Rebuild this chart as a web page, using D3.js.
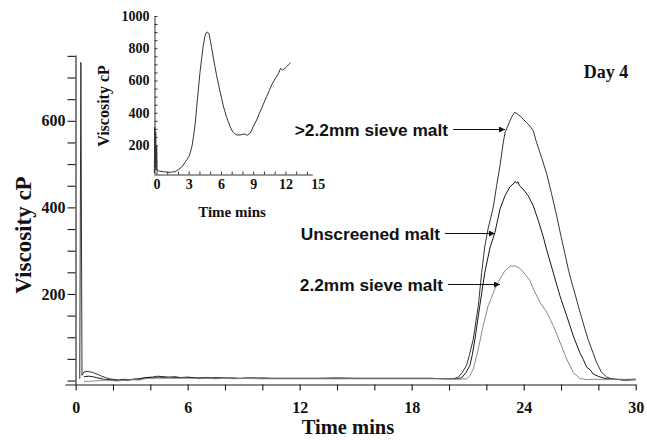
<!DOCTYPE html>
<html>
<head>
<meta charset="utf-8">
<script src="https://cdn.jsdelivr.net/npm/d3@7"></script>
<style>
  html, body { margin: 0; padding: 0; background: #fff; }
  svg { display: block; }
</style>
</head>
<body>
<svg id="chart" width="647" height="440"></svg>
<script>
// ---------------- DATA ----------------
const seriesNames = [">2.2mm sieve malt", "Unscreened malt", "2.2mm sieve malt"];

// >2.2mm sieve malt  [time (min), viscosity (cP)]
const seriesA = [
  [0.22,4],[0.28,735],[0.34,12],[0.45,20],[0.6,21],[0.8,20],[1.0,17],[1.2,14],[1.4,10],[1.6,7],
  [1.8,4],[2.0,3],[2.3,1],[2.6,3],[2.9,2],[3.2,4],[3.5,3],[3.8,7],[4.1,8],[4.4,10],[4.7,9],
  [5.0,8],[5.3,9],[5.6,7],[6.0,8],[6.4,6],[6.8,7],[7.2,6],[7.6,7],[8.0,5],[8.4,6],[8.8,5],
  [9.2,6],[9.6,5],[10.0,6],[10.5,5],[11,5],[12,5],[13,5],[14,6],[15,5],[16,5],[17,5],[18,5],
  [19,5],[20,4],[20.3,5],[20.5,8],[20.7,18],[20.94,35],[21.1,60],[21.3,96],[21.57,173],
  [21.75,250],[21.92,311],[22.1,352],[22.37,400],[22.55,450],[22.73,496],[22.9,548],[23.0,573],
  [23.17,590],[23.35,608],[23.5,619],[23.6,618],[23.71,614],[23.85,610],[23.97,604],[24.15,596],
  [24.33,588],[24.51,577],[24.69,550],[24.96,515],[25.23,478],[25.49,432],[25.76,382],[26.0,333],
  [26.2,295],[26.4,255],[26.57,227],[26.75,200],[26.92,173],[27.1,146],[27.28,119],[27.45,95],
  [27.64,73],[27.9,42],[28.17,19],[28.45,8],[28.7,4],[29.0,3],[29.3,1],[29.6,2],[30.0,3]
];

// Unscreened malt
const seriesB = [
  [0.45,9],[0.7,10],[0.9,9],[1.1,7],[1.3,5],[1.5,3],[1.8,2],[2.1,0],[2.4,1],[2.7,0],[3.0,2],
  [3.3,3],[3.6,6],[3.9,7],[4.2,6],[4.5,8],[4.8,7],[5.1,6],[5.4,7],[5.8,6],[6.2,7],[6.6,5],
  [7.0,6],[7.5,5],[8.0,6],[8.5,5],[9.0,5],[9.5,6],[10.0,5],[11,5],[12,5],[13,5],[14,5],[15,5],
  [16,5],[17,5],[18,5],[19,5],[20,4],[20.4,4],[20.67,6],[20.9,18],[21.12,35],[21.25,60],
  [21.39,96],[21.65,173],[21.92,250],[22.19,306],[22.46,342],[22.73,396],[23.0,427],[23.27,448],
  [23.44,454],[23.55,460],[23.62,456],[23.7,459],[23.76,451],[23.97,442],[24.24,427],[24.51,404],
  [24.78,370],[25.05,332],[25.23,302],[25.58,250],[25.94,196],[26.3,150],[26.65,104],[27.0,65],
  [27.2,48],[27.37,31],[27.55,25],[27.73,15],[28.09,8],[28.45,4],[28.8,3],[29.2,2],[29.6,1],[30,2]
];

// 2.2mm sieve malt
const seriesC = [
  [0.45,-2],[0.7,-2],[1.0,-1],[1.3,0],[1.6,1],[1.9,0],[2.2,-1],[2.5,0],[2.8,1],[3.1,2],[3.4,1],
  [3.7,4],[4.0,5],[4.3,6],[4.6,5],[5.0,6],[5.4,5],[5.8,6],[6.2,5],[6.6,6],[7.0,5],[7.5,4],
  [8,5],[8.5,4],[9,5],[10,4],[11,4],[12,4],[13,4],[14,4],[15,4],[16,4],[17,4],[18,4],[19,4],
  [20,4],[20.6,3],[20.94,4],[21.1,10],[21.3,27],[21.57,73],[21.83,127],[22.1,173],[22.46,212],
  [22.73,235],[23.0,254],[23.27,264],[23.53,265],[23.8,259],[24.07,246],[24.33,231],[24.6,204],
  [24.87,181],[25.23,158],[25.58,127],[25.94,89],[26.3,50],[26.65,19],[27.0,5],[27.37,2],
  [27.8,3],[28.3,2],[29,3],[30,3]
];

// Inset: full profile
const insetSeries = [
  [-0.2,25],[-0.16,310],[-0.12,60],[-0.07,280],[-0.03,45],[0.02,200],[0.06,40],[0.3,38],
  [0.63,34],[1.0,32],[1.26,30],[1.5,33],[1.72,34],[2.0,45],[2.19,55],[2.45,70],[2.65,92],
  [2.85,110],[3.05,132],[3.3,190],[3.45,255],[3.6,330],[3.75,440],[3.9,545],[4.05,650],
  [4.2,735],[4.35,815],[4.5,870],[4.62,895],[4.72,900],[4.82,896],[4.9,885],[5.0,850],
  [5.13,805],[5.28,745],[5.44,686],[5.6,630],[5.75,583],[5.9,535],[6.06,490],[6.2,447],
  [6.37,407],[6.5,378],[6.68,345],[6.85,315],[7.0,293],[7.15,278],[7.3,268],[7.5,262],
  [7.77,262],[8.0,266],[8.23,268],[8.45,260],[8.7,272],[8.85,290],[9.0,313],[9.32,355],
  [9.55,392],[9.79,428],[10.0,462],[10.25,500],[10.5,538],[10.72,572],[10.95,600],[11.18,624],
  [11.4,650],[11.55,676],[11.65,668],[11.74,665],[11.95,676],[12.1,685],[12.26,696],[12.48,710]
];

// Tick values / labels
const xMinorTicks = [0,2,4,6,8,10,12,14,16,18,20,22,24,26,28,30];
const xTickLabels = [0,6,12,18,24,30];
const yMinorTicks = [0,50,100,150,200,250,300,350,400,450,500,550,600,650,700,750];
const yTickLabels = [200,400,600];
const insetXMinorTicks = [0,1,2,3,4,5,6,7,8,9,10,11,12,13,14];
const insetXTickLabels = [0,3,6,9,12,15];
const insetYMinorTicks = [50,100,150,200,250,300,350,400,450,500,550,600,650,700,750,800,850,900,950,1000];
const insetYTickLabels = [200,400,600,800,1000];

// Annotation anchors (data units where arrows touch the curves)
const annotTipTime = [23.0, 22.46, 22.73];
const annotTipValue = [580, 341, 223];

// ---------------- DRAW ----------------
const svg = d3.select("#chart");
const serif = "'Liberation Serif', 'Times New Roman', serif";
const sans = "'Liberation Sans', Arial, sans-serif";

const defs = svg.append("defs");
defs.append("marker")
  .attr("id", "arrow").attr("viewBox", "0 0 10 10")
  .attr("refX", 10).attr("refY", 5)
  .attr("markerWidth", 7).attr("markerHeight", 6)
  .attr("markerUnits", "userSpaceOnUse")
  .attr("orient", "auto")
  .append("path").attr("d", "M0,0 L10,5 L0,10 z").attr("fill", "#111");

// Main scales
const x = d3.scaleLinear().domain([-0.57, 30]).range([65, 635.7]);
const y = d3.scaleLinear().domain([-8, 752]).range([384, 55]);
const axisY = Math.round(y(-8)) + 0.5;
const axisX = Math.round(x(0)) - 0.5;

// Main axes
const gx = svg.append("g").attr("transform", `translate(0,${axisY})`);
gx.call(d3.axisBottom(x).tickValues(xMinorTicks).tickFormat("").tickSizeInner(6).tickSizeOuter(0));
const gxl = svg.append("g").attr("transform", `translate(0,${axisY})`);
gxl.call(d3.axisBottom(x).tickValues(xTickLabels).tickFormat(d3.format("d")).tickSize(0).tickPadding(17));
gxl.select(".domain").remove();

const gy = svg.append("g").attr("transform", `translate(${axisX},0)`);
gy.call(d3.axisLeft(y).tickValues(yMinorTicks).tickFormat("").tickSizeInner(8).tickSizeOuter(0));
const gyl = svg.append("g").attr("transform", `translate(${axisX},0)`);
gyl.call(d3.axisLeft(y).tickValues(yTickLabels).tickFormat(d3.format("d")).tickSize(0).tickPadding(10));
gyl.select(".domain").remove();

[gx, gxl, gy, gyl].forEach(g => {
  g.selectAll(".domain, line").attr("stroke", "#1a1a1a").attr("stroke-width", 1.1);
  g.selectAll("text").attr("font-family", serif).attr("font-weight", "bold")
    .attr("font-size", 16).attr("fill", "#111");
});

// Main lines
const line = d3.line().x(d => x(d[0])).y(d => y(d[1]));
const mainSeries = [seriesA, seriesB, seriesC];
const mainColors = ["#333333", "#161616", "#8a8a8a"];
svg.append("g").selectAll("path").data(mainSeries).join("path")
  .attr("d", line)
  .attr("fill", "none")
  .attr("stroke", (d, i) => mainColors[i])
  .attr("stroke-width", 1)
  .attr("stroke-linejoin", "round");

// Main axis titles
svg.append("text")
  .attr("x", 348).attr("y", 434)
  .attr("text-anchor", "middle")
  .attr("font-family", serif).attr("font-weight", "bold").attr("font-size", 20.5)
  .attr("fill", "#111").text("Time mins");
svg.append("text")
  .attr("transform", "translate(31,235) rotate(-90)")
  .attr("text-anchor", "middle")
  .attr("font-family", serif).attr("font-weight", "bold").attr("font-size", 23)
  .attr("fill", "#111").text("Viscosity cP");

// Day label
svg.append("text")
  .attr("x", 606).attr("y", 78)
  .attr("text-anchor", "middle")
  .attr("font-family", serif).attr("font-weight", "bold").attr("font-size", 18)
  .attr("fill", "#111").text("Day 4");

// Annotations
const annotArrowLen = [52, 50, 52];
seriesNames.forEach((name, i) => {
  const tx = x(annotTipTime[i]);
  const ty = Math.round(y(annotTipValue[i])) + 0.5;
  const sx = tx - annotArrowLen[i];
  svg.append("line")
    .attr("x1", sx).attr("y1", ty).attr("x2", tx).attr("y2", ty)
    .attr("stroke", "#111").attr("stroke-width", 1.2)
    .attr("marker-end", "url(#arrow)");
  svg.append("text")
    .attr("x", sx - 5).attr("y", ty).attr("dy", "0.35em")
    .attr("text-anchor", "end")
    .attr("font-family", sans).attr("font-weight", "bold").attr("font-size", 17.3)
    .attr("fill", "#111").text(name);
});

// ---------------- INSET ----------------
const ix = d3.scaleLinear().domain([-0.23, 14.5]).range([154, 312.3]);
const iy = d3.scaleLinear().domain([20, 1000]).range([174, 16]);

const igx = svg.append("g").attr("transform", `translate(0,${Math.round(iy(20)) + 0.5})`);
igx.call(d3.axisBottom(ix).tickValues(insetXMinorTicks).tickFormat("").tickSizeInner(-3).tickSizeOuter(0));
const igxl = svg.append("g").attr("transform", `translate(0,${Math.round(iy(20)) + 0.5})`);
igxl.call(d3.axisBottom(ix).tickValues(insetXTickLabels).tickFormat(d3.format("d")).tickSize(0).tickPadding(5));
igxl.select(".domain").remove();

const igy = svg.append("g").attr("transform", `translate(${Math.round(ix(-0.23)) + 0.5},0)`);
igy.call(d3.axisLeft(iy).tickValues(insetYMinorTicks).tickFormat("").tickSizeInner(-3).tickSizeOuter(0));
const igyl = svg.append("g").attr("transform", `translate(${Math.round(ix(-0.23)) + 0.5},0)`);
igyl.call(d3.axisLeft(iy).tickValues(insetYTickLabels).tickFormat(d3.format("d")).tickSize(0).tickPadding(5));
igyl.select(".domain").remove();

[igx, igxl, igy, igyl].forEach(g => {
  g.selectAll(".domain, line").attr("stroke", "#333").attr("stroke-width", 1);
  g.selectAll("text").attr("font-family", serif).attr("font-weight", "bold")
    .attr("font-size", 14).attr("fill", "#111");
});

const iline = d3.line().x(d => ix(d[0])).y(d => iy(Math.max(20, d[1])));
svg.append("path").datum(insetSeries)
  .attr("d", iline)
  .attr("fill", "none").attr("stroke", "#333").attr("stroke-width", 1)
  .attr("stroke-linejoin", "round");

svg.append("text")
  .attr("x", 232).attr("y", 217)
  .attr("text-anchor", "middle")
  .attr("font-family", serif).attr("font-weight", "bold").attr("font-size", 15)
  .attr("fill", "#111").text("Time mins");
svg.append("text")
  .attr("transform", "translate(109,106) rotate(-90)")
  .attr("text-anchor", "middle")
  .attr("font-family", serif).attr("font-weight", "bold").attr("font-size", 16)
  .attr("fill", "#111").text("Viscosity cP");
</script>
</body>
</html>
